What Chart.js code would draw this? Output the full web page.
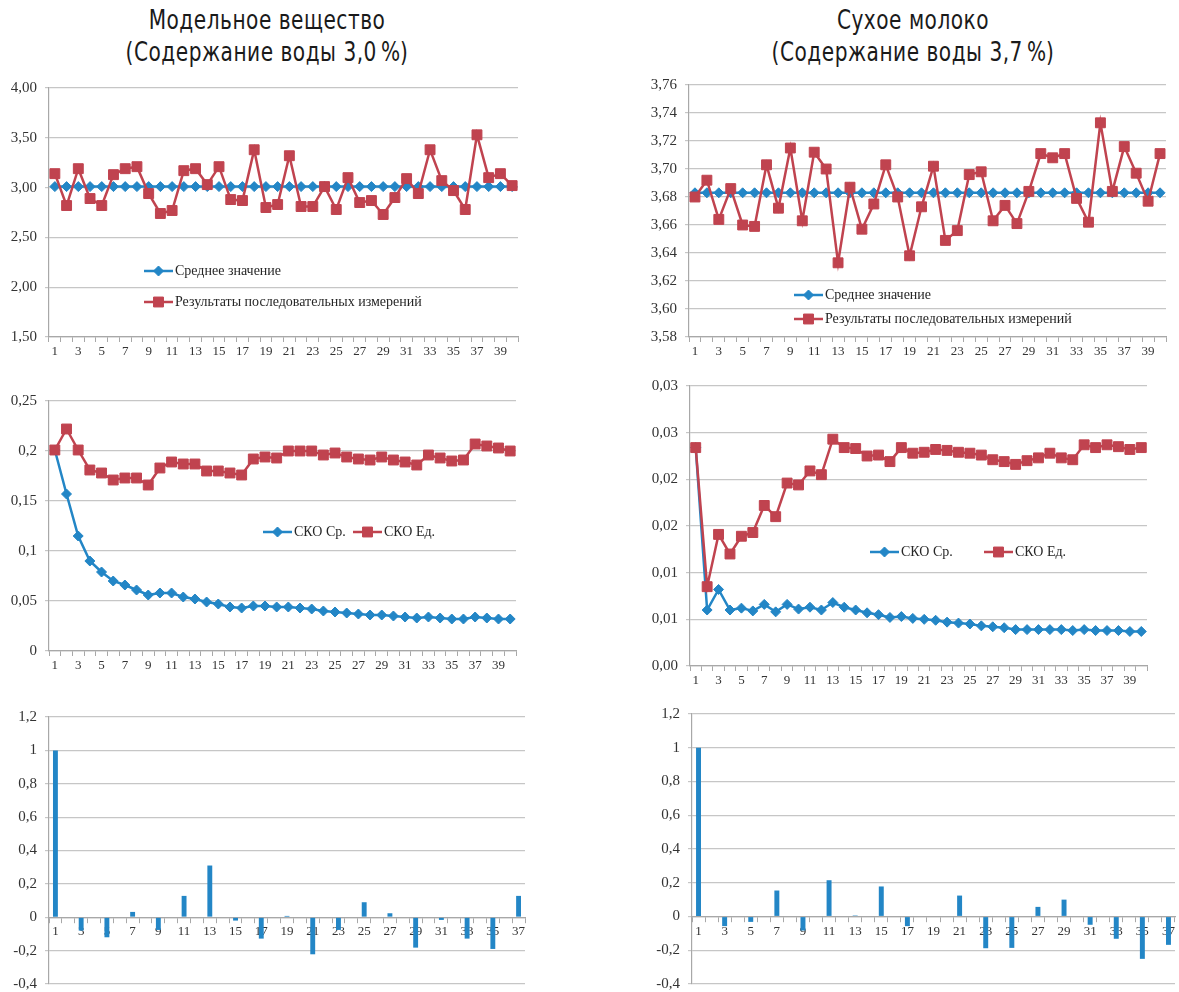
<!DOCTYPE html>
<html>
<head>
<meta charset="utf-8">
<script src="https://cdn.jsdelivr.net/npm/chart.js@4.4.1/dist/chart.umd.min.js"></script>
<style>
  body { margin: 0; background: #fff; width: 1179px; height: 992px; position: relative; overflow: hidden; }
  canvas { position: absolute; }
  .title { position: absolute; width: 500px; text-align: center; color: #1a1a1a;
           font-family: "Liberation Sans Narrow", "DejaVu Sans Condensed", sans-serif;
           font-size: 26px; line-height: 32px; letter-spacing: 0.6px;
           transform: scaleX(0.86); transform-origin: 50% 0; }
</style>
</head>
<body>
<div class="title" style="left:17px; top:4px">Модельное вещество<br>(Содержание воды 3,0&#8239;%)</div>
<div class="title" style="left:663px; top:4px">Сухое молоко<br>(Содержание воды 3,7&#8239;%)</div>
<canvas id="c1"></canvas>
<canvas id="c2"></canvas>
<canvas id="c3"></canvas>
<canvas id="c4"></canvas>
<canvas id="c5"></canvas>
<canvas id="c6"></canvas>
<script>
// categories
const runs = ['1','2','3','4','5','6','7','8','9','10','11','12','13','14','15','16','17','18','19','20',
              '21','22','23','24','25','26','27','28','29','30','31','32','33','34','35','36','37','38','39','40'];
const lags = ['1','2','3','4','5','6','7','8','9','10','11','12','13','14','15','16','17','18','19','20',
              '21','22','23','24','25','26','27','28','29','30','31','32','33','34','35','36','37'];

// model substance, water content
const modelMean = [3.01,3.01,3.01,3.01,3.01,3.01,3.01,3.01,3.01,3.01,3.01,3.01,3.01,3.01,3.01,3.01,3.01,3.01,3.01,3.01,
                   3.01,3.01,3.01,3.01,3.01,3.01,3.01,3.01,3.01,3.01,3.01,3.01,3.01,3.01,3.01,3.01,3.01,3.01,3.01,3.01];
const modelResults = [3.14,2.82,3.19,2.89,2.82,3.13,3.19,3.21,2.94,2.74,2.77,3.17,3.19,3.03,3.21,2.88,2.87,3.38,2.80,2.83,
                      3.32,2.81,2.81,3.01,2.78,3.10,2.85,2.87,2.73,2.90,3.09,2.94,3.38,3.07,2.97,2.78,3.53,3.10,3.14,3.02];
const modelSdMean = [0.201,0.157,0.115,0.090,0.079,0.070,0.066,0.061,0.056,0.058,0.058,0.054,0.052,0.049,0.047,0.044,0.043,0.045,0.045,0.044,
                     0.044,0.043,0.042,0.040,0.039,0.038,0.037,0.036,0.036,0.035,0.034,0.033,0.034,0.033,0.032,0.032,0.034,0.033,0.032,0.032];
const modelSdSingle = [0.201,0.222,0.201,0.181,0.178,0.171,0.173,0.173,0.166,0.183,0.189,0.187,0.187,0.180,0.180,0.178,0.176,0.192,0.194,0.193,
                       0.200,0.200,0.200,0.196,0.198,0.194,0.192,0.191,0.194,0.191,0.189,0.186,0.196,0.193,0.190,0.191,0.207,0.205,0.203,0.200];
const modelAcf = [1.0,0,-0.08,0,-0.12,0,0.032,0,-0.076,0,0.128,0,0.31,0,-0.02,0,-0.128,0,0.008,0,
                  -0.222,0,-0.076,0,0.09,0,0.024,0,-0.182,0,-0.016,0,-0.128,0,-0.19,0,0.128];

// milk powder
const milkMean = [3.683,3.683,3.683,3.683,3.683,3.683,3.683,3.683,3.683,3.683,3.683,3.683,3.683,3.683,3.683,3.683,3.683,3.683,3.683,3.683,
                  3.683,3.683,3.683,3.683,3.683,3.683,3.683,3.683,3.683,3.683,3.683,3.683,3.683,3.683,3.683,3.683,3.683,3.683,3.683,3.683];
const milkResults = [3.680,3.692,3.664,3.686,3.660,3.659,3.703,3.672,3.715,3.663,3.712,3.700,3.633,3.687,3.657,3.675,3.703,3.680,3.638,3.673,
                     3.702,3.649,3.656,3.696,3.698,3.663,3.674,3.661,3.684,3.711,3.708,3.711,3.679,3.662,3.733,3.684,3.716,3.697,3.677,3.711];
const milkSdMean = [0.0234,0.0060,0.0082,0.0060,0.0062,0.0059,0.0066,0.0058,0.0066,0.0061,0.0063,0.0060,0.0068,0.0063,0.0060,0.0057,0.0055,0.0052,0.0053,0.0051,
                    0.0050,0.0049,0.0047,0.0046,0.0045,0.0043,0.0042,0.0041,0.0039,0.0039,0.0039,0.0039,0.0039,0.0038,0.0039,0.0038,0.0038,0.0038,0.0037,0.0037];
const milkSdSingle = [0.0234,0.0085,0.0141,0.0120,0.0139,0.0143,0.0172,0.0160,0.0196,0.0194,0.0209,0.0205,0.0243,0.0234,0.0233,0.0225,0.0226,0.0219,0.0234,0.0228,
                      0.0229,0.0232,0.0231,0.0229,0.0228,0.0226,0.0221,0.0219,0.0216,0.0220,0.0223,0.0228,0.0223,0.0221,0.0237,0.0234,0.0237,0.0235,0.0232,0.0234];
const milkAcf = [1.0,0,-0.057,0,-0.032,0,0.154,0,-0.083,0,0.215,0,0.006,0,0.178,0,-0.057,0,0,0,
                 0.124,0,-0.188,0,-0.186,0,0.057,0,0.10,0,-0.049,0,-0.132,0,-0.251,0,-0.168];

const BLUE = '#2386c6', RED = '#c0434f';
const GRID = '#c6c6c6', AXIS = '#a8a8a8', TXT = '#333';
const SERIF = '"Liberation Serif", "Times New Roman", serif';

// legend drawn inside the plot, Excel style
const innerLegend = {
  id: 'innerLegend',
  afterDraw(chart, args, opts) {
    if (!opts.at) return;
    const ctx = chart.ctx;
    const ox = parseFloat(chart.canvas.style.left), oy = parseFloat(chart.canvas.style.top);
    chart.data.datasets.forEach((ds, i) => {
      const p = opts.at[i];
      if (!p) return;
      const x = p[0] - ox, y = p[1] - oy;
      ctx.save();
      ctx.strokeStyle = ds.borderColor;
      ctx.lineWidth = 2.5;
      ctx.beginPath(); ctx.moveTo(x, y); ctx.lineTo(x + 29, y); ctx.stroke();
      ctx.fillStyle = ds.borderColor;
      ctx.lineWidth = 1;
      Chart.helpers.drawPoint(ctx, { pointStyle: ds.pointStyle, radius: ds.pointRadius, borderWidth: 1, rotation: 0 }, x + 14.5, y);
      ctx.fillStyle = '#262626';
      ctx.font = '14px ' + SERIF;
      ctx.textBaseline = 'middle';
      ctx.fillText(ds.label, x + 31, y);
      ctx.restore();
    });
  }
};

function lineSet(label, data, color, style) {
  return {
    label, data, borderColor: color, backgroundColor: color,
    pointBackgroundColor: color, pointBorderColor: color, pointBorderWidth: 1,
    pointStyle: style, pointRadius: style === 'rect' ? 7 : 5,
    borderWidth: 2.5, tension: 0, order: style === 'rect' ? 0 : 1
  };
}

// plot = [left, top, right, bottom] of the chart area on the page
function makeChart(id, plot, type, labels, datasets, y, legendAt) {
  const yW = 50, padTop = 22, padRight = 4;
  const xH = type === 'bar' ? 0 : 28;
  const padBottom = type === 'bar' ? 22 : 0;
  const canvas = document.getElementById(id);
  canvas.width = plot[2] - plot[0] + yW + padRight;
  canvas.height = plot[3] - plot[1] + padTop + xH + padBottom;
  canvas.style.left = (plot[0] - yW) + 'px';
  canvas.style.top = (plot[1] - padTop) + 'px';

  const xScale = {
    type: 'category',
    offset: true,
    grid: { offset: true, drawOnChartArea: false, drawTicks: true, tickLength: 5, color: AXIS, lineWidth: 1 },
    border: { color: AXIS, width: 1.2 },
    ticks: {
      autoSkip: false, maxRotation: 0, padding: 2, color: TXT,
      font: { family: SERIF, size: 13 },
      callback: function (v, i) { return i % 2 === 0 ? this.getLabelForValue(v) : ''; }
    },
    afterFit: s => { s.height = xH; }
  };
  if (type === 'bar') xScale.position = { y: 0 };

  new Chart(canvas.getContext('2d'), {
    type,
    data: { labels, datasets },
    plugins: [innerLegend],
    options: {
      responsive: false,
      animation: false,
      layout: { padding: { top: padTop, right: padRight, bottom: padBottom, left: 0 } },
      plugins: { legend: { display: false }, tooltip: { enabled: false }, innerLegend: { at: legendAt } },
      scales: {
        x: xScale,
        y: {
          min: y.min, max: y.max,
          grid: { color: GRID, lineWidth: 1.2, tickLength: 4 },
          border: { color: AXIS, width: 1.2 },
          ticks: { stepSize: y.step, padding: 8, color: TXT, font: { family: SERIF, size: 15 }, callback: y.fmt },
          afterFit: s => { s.width = yW; }
        }
      }
    }
  });
}

const comma = s => String(s).replace('.', ',');

makeChart('c1', [49, 88, 522, 337], 'line', runs,
  [lineSet('Среднее значение', modelMean, BLUE, 'rectRot'),
   lineSet('Результаты последовательных измерений', modelResults, RED, 'rect')],
  { min: 1.5, max: 4, step: 0.5, fmt: v => comma(v.toFixed(2)) },
  [[144, 271], [144, 302]]);

makeChart('c2', [689, 85, 1170, 337], 'line', runs,
  [lineSet('Среднее значение', milkMean, BLUE, 'rectRot'),
   lineSet('Результаты последовательных измерений', milkResults, RED, 'rect')],
  { min: 3.58, max: 3.76, step: 0.02, fmt: v => comma(v.toFixed(2)) },
  [[794, 295], [794, 319]]);

makeChart('c3', [49, 401, 520, 651], 'line', runs,
  [lineSet('СКО Ср.', modelSdMean, BLUE, 'rectRot'),
   lineSet('СКО Ед.', modelSdSingle, RED, 'rect')],
  { min: 0, max: 0.25, step: 0.05, fmt: v => comma(Math.round(v * 100) / 100) },
  [[263, 532], [353, 532]]);

makeChart('c4', [690, 386, 1151, 666], 'line', runs,
  [lineSet('СКО Ср.', milkSdMean, BLUE, 'rectRot'),
   lineSet('СКО Ед.', milkSdSingle, RED, 'rect')],
  { min: 0, max: 0.03, step: 0.005, fmt: v => comma((Math.round(v * 100 + 1e-9) / 100).toFixed(2)) },
  [[870, 552], [984, 552]]);

const barSet = data => ({ data, backgroundColor: BLUE, barPercentage: 0.38, categoryPercentage: 1 });
const acfFmt = v => comma(Math.round(v * 10) / 10);

makeChart('c5', [49, 717, 525, 984], 'bar', lags, [barSet(modelAcf)],
  { min: -0.4, max: 1.2, step: 0.2, fmt: acfFmt }, null);

makeChart('c6', [692, 714, 1175, 984], 'bar', lags, [barSet(milkAcf)],
  { min: -0.4, max: 1.2, step: 0.2, fmt: acfFmt }, null);
</script>
</body>
</html>
